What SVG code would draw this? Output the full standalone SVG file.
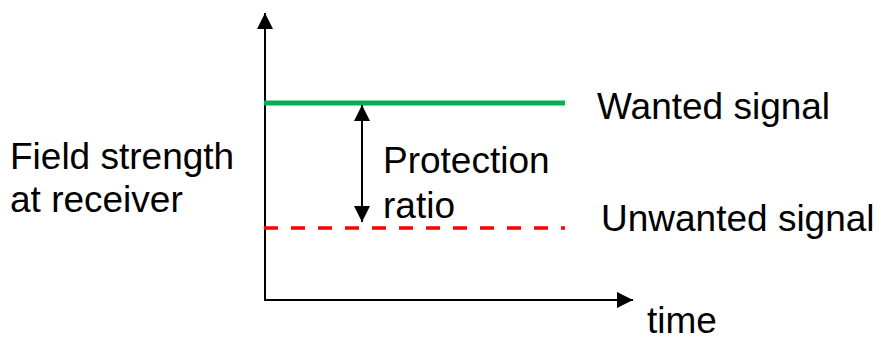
<svg xmlns="http://www.w3.org/2000/svg" width="878" height="341" viewBox="0 0 878 341">
<style>
text{font-family:"Liberation Sans",Arial,sans-serif;font-size:37px;fill:#000}
.ax{stroke:#000;stroke-width:2;fill:none}
</style>
<defs>
<marker id="ah" markerWidth="16" markerHeight="16" refX="16" refY="8" orient="auto" markerUnits="userSpaceOnUse" viewBox="0 0 16 16">
<path d="M0,0 L16,8 L0,16 Z" fill="#000"/>
</marker>
<marker id="as" markerWidth="16" markerHeight="16" refX="16" refY="8" orient="auto-start-reverse" markerUnits="userSpaceOnUse" viewBox="0 0 16 16">
<path d="M0,0 L16,8 L0,16 Z" fill="#000"/>
</marker>
</defs>
<rect width="878" height="341" fill="#fff"/>
<g id="connectors">
<line class="ax" x1="265" y1="300" x2="265" y2="13" marker-end="url(#ah)"/>
<line class="ax" x1="264" y1="300" x2="633" y2="300" marker-end="url(#ah)"/>
<line x1="264" y1="103" x2="565" y2="103" stroke="#00b050" stroke-width="5"/>
<line x1="264" y1="228" x2="565" y2="228" stroke="#ff0000" stroke-width="3.5" stroke-dasharray="14 13"/>
<line class="ax" x1="362" y1="105" x2="362" y2="222" marker-start="url(#as)" marker-end="url(#as)"/>
</g>
<g id="ylabel"><text x="10" y="169">Field strength</text><text x="10" y="212">at receiver</text></g>
<g id="wanted"><text x="597" y="119">Wanted signal</text></g>
<g id="unwanted"><text x="601" y="231">Unwanted  signal</text></g>
<g id="protection"><text x="383" y="173">Protection</text><text x="383" y="218">ratio</text></g>
<g id="xlabel"><text x="647" y="333">time</text></g>
</svg>
